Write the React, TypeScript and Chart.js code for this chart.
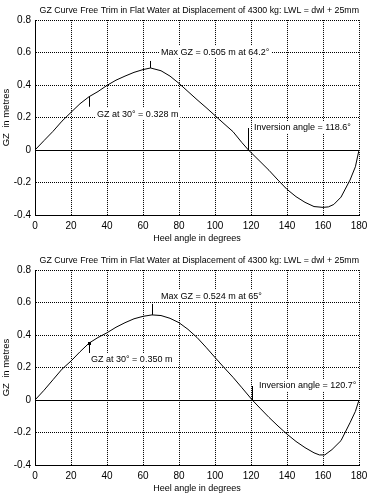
import React, { useEffect, useRef } from 'react';
import { Chart, registerables } from 'chart.js';

Chart.register(...registerables);

// ---- data ----
const chartTitle = 'GZ Curve Free Trim in Flat Water at Displacement of 4300 kg: LWL = dwl + 25mm';
const xAxisTitle = 'Heel angle in degrees';
const yAxisTitle = 'GZ  in metres';

const anglesA = [0, 5, 10, 15, 20, 25, 30, 35, 40, 45, 50, 55, 60, 64.2, 70, 75, 80, 85, 90, 95, 100, 105, 110, 115, 118.6, 125, 130, 135, 140, 145, 150, 155, 160, 163, 166, 170, 175, 178, 180];
const gzA = [0, 0.058, 0.115, 0.178, 0.232, 0.285, 0.328, 0.36, 0.398, 0.43, 0.455, 0.478, 0.495, 0.505, 0.488, 0.455, 0.41, 0.36, 0.31, 0.262, 0.212, 0.162, 0.113, 0.045, 0, -0.07, -0.125, -0.185, -0.242, -0.287, -0.322, -0.348, -0.353, -0.35, -0.335, -0.29, -0.185, -0.103, 0];

const anglesB = [0, 5, 10, 15, 20, 25, 30, 35, 40, 45, 50, 55, 60, 65, 70, 75, 80, 85, 90, 95, 100, 105, 110, 115, 120.7, 125, 130, 135, 140, 145, 150, 155, 158, 161, 165, 170, 175, 178, 180];
const gzB = [0, 0.06, 0.125, 0.19, 0.24, 0.297, 0.35, 0.385, 0.414, 0.448, 0.476, 0.5, 0.515, 0.524, 0.52, 0.503, 0.476, 0.435, 0.385, 0.325, 0.262, 0.2, 0.14, 0.075, 0, -0.05, -0.107, -0.16, -0.21, -0.255, -0.293, -0.325, -0.338, -0.338, -0.305, -0.25, -0.14, -0.07, 0];

const maxAngles = [64.2, 65];
const maxGZs = [0.505, 0.524];
const gz30s = [0.328, 0.35];
const inversionAngles = [118.6, 120.7];
const maxLabels = ['Max GZ = 0.505 m at 64.2°', 'Max GZ = 0.524 m at 65°'];
const gz30Labels = ['GZ at 30° = 0.328 m', 'GZ at 30° = 0.350 m'];
const invLabels = ['Inversion angle = 118.6°', 'Inversion angle = 120.7°'];

const xMin = 0, xMax = 180, xStep = 20;
const yMin = -0.4, yMax = 0.8, yStep = 0.2;

const FONT = '"Liberation Sans", Arial, sans-serif';

const align = (v: number) => Math.round(v - 0.5) + 0.5;

const notesPlugin = {
  id: 'gzNotes',
  beforeDatasetsDraw(chart: any) {
    const { ctx, chartArea, scales } = chart;
    const y = align(scales.y.getPixelForValue(0));
    ctx.save();
    ctx.strokeStyle = '#000';
    ctx.lineWidth = 1;
    ctx.beginPath();
    ctx.moveTo(chartArea.left, y);
    ctx.lineTo(chartArea.right, y);
    ctx.stroke();
    ctx.restore();
  },
  afterDatasetsDraw(chart: any) {
    const n = chart.options.plugins.gzNotes;
    if (!n) return;
    const { ctx, scales } = chart;
    const xs = scales.x, ys = scales.y;
    ctx.save();
    ctx.font = `9px ${FONT}`;
    ctx.textBaseline = 'middle';
    ctx.textAlign = 'left';
    const vline = (x: number, y1: number, y2: number) => {
      const ax = align(x);
      ctx.strokeStyle = '#000';
      ctx.lineWidth = 1;
      ctx.beginPath();
      ctx.moveTo(ax, y1);
      ctx.lineTo(ax, y2);
      ctx.stroke();
    };
    const label = (text: string, x: number, cy: number) => {
      const w = ctx.measureText(text).width;
      ctx.fillStyle = '#fff';
      ctx.fillRect(Math.round(x) - 2, Math.round(cy) - 6, w + 4, 12);
      ctx.fillStyle = '#000';
      ctx.fillText(text, Math.round(x), Math.round(cy) + 0.5);
    };
    // max GZ
    const mx = xs.getPixelForValue(n.maxAngle), my = ys.getPixelForValue(n.maxGZ);
    vline(mx, my - n.maxTick, my);
    label(n.maxLabel, mx + n.maxDx, my + n.maxDy);
    // GZ at 30
    const gx = xs.getPixelForValue(30), gy = ys.getPixelForValue(n.gz30);
    vline(gx, gy, gy + n.gzTick);
    if (n.dot) {
      ctx.fillStyle = '#000';
      ctx.fillRect(Math.round(gx) - 1, Math.round(gy) - 1, 3, 3);
    }
    label(n.gzLabel, gx + n.gzDx, gy + n.gzDy);
    // inversion
    const ix = xs.getPixelForValue(n.inv), iy = ys.getPixelForValue(0);
    vline(ix, iy - n.invTick, iy);
    label(n.invLabel, ix + n.invDx, iy + n.invDy);
    ctx.restore();
  },
};

function makeConfig(angles: number[], gz: number[], notes: any): any {
  const pts = angles.map((a, i) => ({ x: a, y: gz[i] }));
  return {
    type: 'line',
    data: {
      datasets: [
        {
          data: pts,
          borderColor: '#000',
          borderWidth: 1,
          pointRadius: 0,
          tension: 0,
          fill: false,
        },
      ],
    },
    plugins: [notesPlugin],
    options: {
      responsive: false,
      animation: false,
      devicePixelRatio: 1,
      layout: { padding: { left: 0, right: 16, top: 0, bottom: 0 } },
      plugins: {
        legend: { display: false },
        tooltip: { enabled: false },
        title: {
          display: true,
          text: chartTitle,
          align: 'end',
          color: '#000',
          font: { family: FONT, size: 8.8, weight: 'normal', lineHeight: 1.2 },
          padding: { top: 5.5, bottom: 4 },
        },
        gzNotes: notes,
      },
      scales: {
        x: {
          type: 'linear',
          min: xMin,
          max: xMax,
          afterFit: (s: any) => { s.height = 35; },
          ticks: {
            stepSize: xStep,
            color: '#000',
            padding: 5,
            maxRotation: 0,
            font: { family: FONT, size: 10 },
          },
          grid: { color: '#000', lineWidth: 1, drawTicks: false },
          border: { display: true, color: '#000', width: 1, dash: [1, 1] },
          title: {
            display: true,
            text: xAxisTitle,
            color: '#000',
            font: { family: FONT, size: 9, lineHeight: 1.2 },
            padding: { top: 0, bottom: 6 },
          },
        },
        y: {
          type: 'linear',
          min: yMin,
          max: yMax,
          afterFit: (s: any) => { s.width = 35; },
          ticks: {
            stepSize: yStep,
            color: '#000',
            padding: 4,
            font: { family: FONT, size: 10 },
            callback: (v: number) => String(Number(v.toFixed(1))),
          },
          grid: { color: '#000', lineWidth: 1, drawTicks: false },
          border: { display: true, color: '#000', width: 1, dash: [1, 1] },
          title: {
            display: true,
            text: yAxisTitle,
            color: '#000',
            font: { family: FONT, size: 9.5, lineHeight: 1.2 },
            padding: { top: 1, bottom: 0 },
          },
        },
      },
    },
  };
}

function GZChart({ angles, gz, notes }: { angles: number[]; gz: number[]; notes: any }) {
  const ref = useRef<HTMLCanvasElement | null>(null);
  useEffect(() => {
    if (!ref.current) return;
    const chart = new Chart(ref.current, makeConfig(angles, gz, notes));
    return () => chart.destroy();
  }, []);
  return (
    <div style={{ width: 375, height: 250, position: 'relative' }}>
      <canvas ref={ref} width={375} height={250} style={{ display: 'block', width: 375, height: 250 }} />
    </div>
  );
}

export default function App() {
  const notesA = {
    maxAngle: maxAngles[0], maxGZ: maxGZs[0], maxLabel: maxLabels[0], maxTick: 7, maxDx: 10, maxDy: -16,
    gz30: gz30s[0], gzLabel: gz30Labels[0], gzTick: 10, gzDx: 8, gzDy: 17, dot: false,
    inv: inversionAngles[0], invLabel: invLabels[0], invTick: 22, invDx: 6, invDy: -23,
  };
  const notesB = {
    maxAngle: maxAngles[1], maxGZ: maxGZs[1], maxLabel: maxLabels[1], maxTick: 11, maxDx: 9, maxDy: -19,
    gz30: gz30s[1], gzLabel: gz30Labels[1], gzTick: 10, gzDx: 2, gzDy: 16, dot: true,
    inv: inversionAngles[1], invLabel: invLabels[1], invTick: 14, invDx: 7, invDy: -15,
  };
  return (
    <div style={{ position: 'absolute', left: 0, top: 0, width: 375, height: 500, background: '#fff' }}>
      <GZChart angles={anglesA} gz={gzA} notes={notesA} />
      <GZChart angles={anglesB} gz={gzB} notes={notesB} />
    </div>
  );
}
